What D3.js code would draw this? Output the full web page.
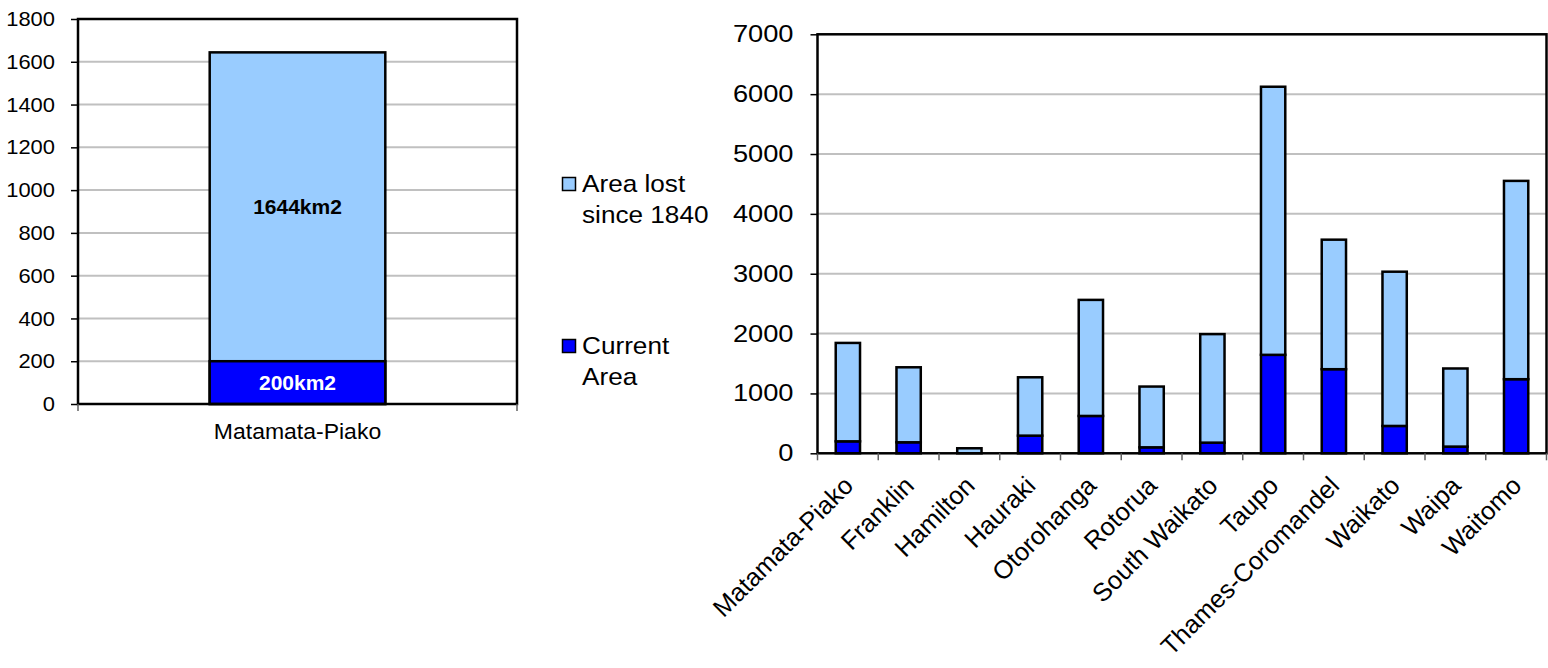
<!DOCTYPE html>
<html>
<head>
<meta charset="utf-8">
<script src="https://cdn.jsdelivr.net/npm/d3@7"></script>
<style>
  html, body { margin: 0; padding: 0; background: #fff; }
  svg { display: block; font-family: "Liberation Sans", Arial, Helvetica, sans-serif; }
</style>
</head>
<body>
<svg id="chart" width="1548" height="668"></svg>
<script>
// Matamata-Piako wetland area (km2)
const overviewDistrict = ["Matamata-Piako"];
const overviewCurrent = [200];
const overviewLost = [1644];
const overviewTicks = [0, 200, 400, 600, 800, 1000, 1200, 1400, 1600, 1800];

// Wetland area by district (km2)
const districts = ["Matamata-Piako", "Franklin", "Hamilton", "Hauraki", "Otorohanga", "Rotorua",
  "South Waikato", "Taupo", "Thames-Coromandel", "Waikato", "Waipa", "Waitomo"];
const currentArea = [200, 184, 0, 295, 624, 100, 178, 1645, 1405, 457, 112, 1238];
const areaLost = [1644, 1253, 84, 975, 1939, 1015, 1813, 4479, 2164, 2577, 1305, 3313];
const districtTicks = [0, 1000, 2000, 3000, 4000, 5000, 6000, 7000];

// Legend entries (lines of each label)
const legendLabels = [["Area lost", "since 1840"], ["Current", "Area"]];

const LIGHT = "#99ccff", DARK = "#0000ff", GRID = "#c0c0c0", INK = "#000";
const BAR_STROKE = 2.5;

const svg = d3.select("#chart");

// place a text element at (x, y) with a horizontal stretch
function placeText(sel, x, y, sx) {
  sel.attr("x", 0).attr("y", 0)
     .attr("transform", `translate(${x},${y}) scale(${sx},1)`);
  return sel;
}

function styleValueAxis(ax, size, stretch) {
  ax.attr("font-family", null).attr("font-size", null);
  ax.select(".domain").remove();
  ax.selectAll(".tick line").attr("stroke", INK).attr("stroke-width", 1.5);
  ax.selectAll(".tick text").each(function () {
    const t = d3.select(this);
    placeText(t, +t.attr("x"), 0, stretch);
  }).attr("font-size", size).attr("fill", INK);
}

// ---------- left panel: single district ----------
(function () {
  const left = 78, right = 517, top = 19, bottom = 404;
  const y = d3.scaleLinear().domain([0, 1800]).range([bottom, top]);
  const x = d3.scaleBand().domain(overviewDistrict).range([left, right]);
  const bw = x.bandwidth() * 0.4;
  const g = svg.append("g");

  g.selectAll("line.grid").data(overviewTicks.slice(1, -1)).join("line")
    .attr("x1", left).attr("x2", right)
    .attr("y1", d => y(d)).attr("y2", d => y(d))
    .attr("stroke", GRID).attr("stroke-width", 2);

  const rows = overviewDistrict.map((d, i) => ({ d, cur: overviewCurrent[i], lost: overviewLost[i] }));

  // area lost bar, with the current-area bar drawn over its base
  g.selectAll("rect.lost").data(rows).join("rect")
    .attr("x", r => x(r.d) + (x.bandwidth() - bw) / 2).attr("width", bw)
    .attr("y", r => y(r.lost)).attr("height", r => y(0) - y(r.lost))
    .attr("fill", LIGHT).attr("stroke", INK).attr("stroke-width", BAR_STROKE);
  g.selectAll("rect.cur").data(rows).join("rect")
    .attr("x", r => x(r.d) + (x.bandwidth() - bw) / 2).attr("width", bw)
    .attr("y", r => y(r.cur)).attr("height", r => y(0) - y(r.cur))
    .attr("fill", DARK).attr("stroke", INK).attr("stroke-width", BAR_STROKE);

  // value labels
  rows.forEach(r => {
    const cx = x(r.d) + x.bandwidth() / 2;
    g.append("text").text(r.lost + "km2")
      .attr("x", cx).attr("y", y((r.cur + r.lost) / 2)).attr("dy", "0.35em")
      .attr("text-anchor", "middle").attr("font-weight", "bold")
      .attr("font-size", 21).attr("fill", INK);
    g.append("text").text(r.cur + "km2")
      .attr("x", cx).attr("y", y(r.cur / 2)).attr("dy", "0.35em")
      .attr("text-anchor", "middle").attr("font-weight", "bold")
      .attr("font-size", 21).attr("fill", "#fff");
  });

  // plot frame
  g.append("rect").attr("x", left).attr("y", top)
    .attr("width", right - left).attr("height", bottom - top)
    .attr("fill", "none").attr("stroke", INK).attr("stroke-width", 2.5);

  // value axis
  const ya = g.append("g").attr("transform", `translate(${left},0)`)
    .call(d3.axisLeft(y).tickValues(overviewTicks).tickFormat(d3.format("d"))
      .tickSize(7).tickPadding(16));
  styleValueAxis(ya, 20.5, 1.07);

  // category axis: ticks at band edges, label centred
  const edges = [x.range()[0], x.range()[1]];
  g.selectAll("line.ctick").data(edges).join("line")
    .attr("x1", d => d).attr("x2", d => d)
    .attr("y1", bottom).attr("y2", bottom + 7)
    .attr("stroke", "#606060").attr("stroke-width", 1.5);
  overviewDistrict.forEach(d => {
    placeText(g.append("text").text(d), x(d) + x.bandwidth() / 2, bottom + 35, 1.07)
      .attr("text-anchor", "middle").attr("font-size", 21.5).attr("fill", INK);
  });
})();

// ---------- legend ----------
(function () {
  const g = svg.append("g");
  const fills = [LIGHT, DARK];
  const baselines = [192, 354];
  legendLabels.forEach((lines, i) => {
    g.append("rect").attr("x", 562.5).attr("y", baselines[i] - 14.5)
      .attr("width", 13).attr("height", 13)
      .attr("fill", fills[i]).attr("stroke", INK).attr("stroke-width", 1.5);
    lines.forEach((ln, j) => {
      placeText(g.append("text").text(ln), 582, baselines[i] + j * 30.5, 1.09)
        .attr("font-size", 24).attr("fill", INK);
    });
  });
})();

// ---------- right panel: all districts ----------
(function () {
  const left = 817.5, right = 1546.5, top = 34.3, bottom = 453.3;
  const y = d3.scaleLinear().domain([0, 7000]).range([bottom, top]);
  const x = d3.scaleBand().domain(districts).range([left, right]);
  const bw = x.bandwidth() * 0.4;
  const g = svg.append("g");

  g.selectAll("line.grid").data(districtTicks.slice(1, -1)).join("line")
    .attr("x1", left).attr("x2", right)
    .attr("y1", d => y(d)).attr("y2", d => y(d))
    .attr("stroke", GRID).attr("stroke-width", 2);

  const rows = districts.map((d, i) => ({ district: d, current: currentArea[i], lost: areaLost[i] }));
  const series = d3.stack().keys(["current", "lost"])(rows);
  const colours = { current: DARK, lost: LIGHT };

  g.selectAll("g.series").data(series).join("g")
    .attr("fill", s => colours[s.key])
    .selectAll("rect").data(s => s.filter(p => p[1] > p[0])).join("rect")
    .attr("x", p => x(p.data.district) + (x.bandwidth() - bw) / 2)
    .attr("width", bw)
    .attr("y", p => y(p[1]))
    .attr("height", p => y(p[0]) - y(p[1]))
    .attr("stroke", INK).attr("stroke-width", BAR_STROKE);

  g.append("rect").attr("x", left).attr("y", top)
    .attr("width", right - left).attr("height", bottom - top)
    .attr("fill", "none").attr("stroke", INK).attr("stroke-width", 2.5);

  const ya = g.append("g").attr("transform", `translate(${left},0)`)
    .call(d3.axisLeft(y).tickValues(districtTicks).tickFormat(d3.format("d"))
      .tickSize(7).tickPadding(17));
  styleValueAxis(ya, 23.5, 1.16);

  // category ticks at band edges
  const edges = districts.map(d => x(d)).concat([x.range()[1]]);
  g.selectAll("line.ctick").data(edges).join("line")
    .attr("x1", d => d).attr("x2", d => d)
    .attr("y1", bottom).attr("y2", bottom + 7)
    .attr("stroke", "#606060").attr("stroke-width", 1.5);

  // rotated district names
  g.selectAll("text.cat").data(districts).join("text")
    .attr("text-anchor", "end")
    .attr("transform", d => `translate(${x(d) + x.bandwidth() / 2 + 7},${bottom + 34}) rotate(-45)`)
    .attr("font-size", 25.5).attr("fill", INK)
    .text(d => d);
})();
</script>
</body>
</html>
